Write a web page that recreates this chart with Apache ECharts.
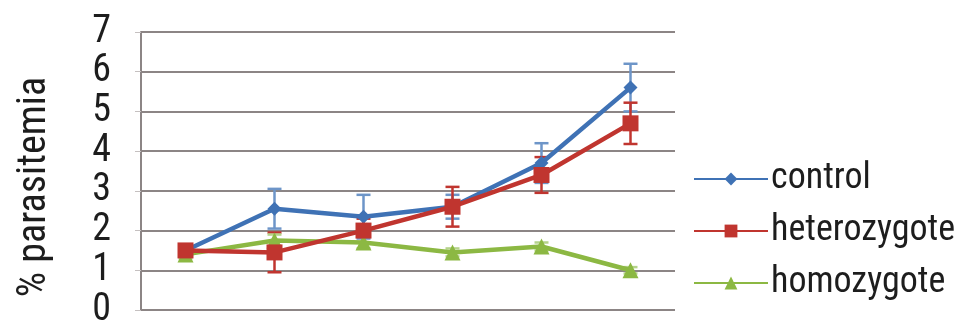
<!DOCTYPE html>
<html>
<head>
<meta charset="utf-8">
<script src="https://cdn.jsdelivr.net/npm/echarts@6/dist/echarts.min.js"></script>
<style>
html,body{margin:0;padding:0;background:#fff;}
#chart{width:967px;height:329px;}
</style>
</head>
<body>
<div id="chart"></div>
<script>
// Time points along the x axis (unlabelled)
var categories = ['1', '2', '3', '4', '5', '6'];
var yTicks = [0, 1, 2, 3, 4, 5, 6, 7];
var yTitle = '% parasitemia';

// Mean % parasitemia per group
var controlValues = [1.5, 2.55, 2.35, 2.6, 3.7, 5.6];
var heteroValues = [1.5, 1.45, 2.0, 2.6, 3.4, 4.7];
var homoValues = [1.4, 1.75, 1.7, 1.45, 1.6, 1.0];

// Error (± SE) per group
var controlErr = [0.1, 0.5, 0.55, 0.3, 0.5, 0.6];
var heteroErr = [0.15, 0.5, 0.3, 0.5, 0.45, 0.52];
var homoErr = [0.1, 0.15, 0.15, 0.1, 0.1, 0.08];

var FONT = '"Liberation Sans Narrow", "Roboto Condensed", "DejaVu Sans Condensed", sans-serif';
var BLUE = '#3f72b5', RED = '#c0352f', GREEN = '#8cb843';

function errorSeries(name, values, errs, color) {
  var data = values.map(function (v, i) { return [i, v - errs[i], v + errs[i]]; });
  return {
    name: name,
    type: 'custom',
    z: 1,
    silent: true,
    renderItem: function (params, api) {
      var x = api.value(0);
      var lo = api.coord([x, api.value(1)]);
      var hi = api.coord([x, api.value(2)]);
      var w = 7;
      var st = { stroke: color, lineWidth: 2.5 };
      return {
        type: 'group',
        children: [
          { type: 'line', shape: { x1: lo[0], y1: lo[1], x2: hi[0], y2: hi[1] }, style: st },
          { type: 'line', shape: { x1: hi[0] - w, y1: hi[1], x2: hi[0] + w, y2: hi[1] }, style: st },
          { type: 'line', shape: { x1: lo[0] - w, y1: lo[1], x2: lo[0] + w, y2: lo[1] }, style: st }
        ]
      };
    },
    data: data
  };
}

function lineSeries(name, values, color, symbol, size) {
  return {
    name: name,
    type: 'line',
    z: 3,
    data: values,
    symbol: symbol,
    symbolSize: size,
    lineStyle: { color: color, width: 4.5 },
    itemStyle: { color: color },
    emphasis: { disabled: true }
  };
}

var chart = echarts.init(document.getElementById('chart'), null, { renderer: 'canvas' });
chart.setOption({
  animation: false,
  backgroundColor: '#fff',
  grid: { left: 141, right: 292, top: 32, bottom: 11, containLabel: false },
  graphic: [{
    type: 'text',
    x: 35,
    y: 187,
    rotation: Math.PI / 2,
    style: {
      text: yTitle,
      font: '40px ' + FONT,
      fill: '#1d1d1d',
      align: 'center',
      verticalAlign: 'middle'
    }
  }],
  legend: {
    orient: 'vertical',
    left: 688,
    top: 156,
    itemGap: 16,
    itemWidth: 74,
    itemHeight: 16,
    textStyle: { fontFamily: FONT, fontSize: 36, color: '#1d1d1d', padding: [0, 0, 0, -2] },
    data: ['control', 'heterozygote', 'homozygote']
  },
  xAxis: {
    type: 'category',
    data: categories,
    boundaryGap: true,
    axisLine: { show: false },
    axisTick: { show: false },
    axisLabel: { show: false },
    splitLine: { show: false }
  },
  yAxis: {
    type: 'value',
    min: yTicks[0],
    max: yTicks[yTicks.length - 1],
    interval: 1,
    axisLine: { show: true, lineStyle: { color: '#8c8585', width: 2 } },
    axisTick: { show: true, length: 6, lineStyle: { color: '#c5c0c0', width: 1 } },
    axisLabel: {
      fontFamily: FONT, fontSize: 38, color: '#1d1d1d', margin: 30,
      padding: [0, 0, 14, 0]
    },
    splitLine: { show: true, lineStyle: { color: '#8c8585', width: 2 } }
  },
  series: [
    errorSeries('controlErr', controlValues, controlErr, '#6d95c8'),
    errorSeries('heteroErr', heteroValues, heteroErr, RED),
    errorSeries('homoErr', homoValues, homoErr, '#b5d38a'),
    lineSeries('homozygote', homoValues, GREEN, 'triangle', 16),
    lineSeries('control', controlValues, BLUE, 'diamond', 14),
    lineSeries('heterozygote', heteroValues, RED, 'rect', 16)
  ]
});
</script>
</body>
</html>
